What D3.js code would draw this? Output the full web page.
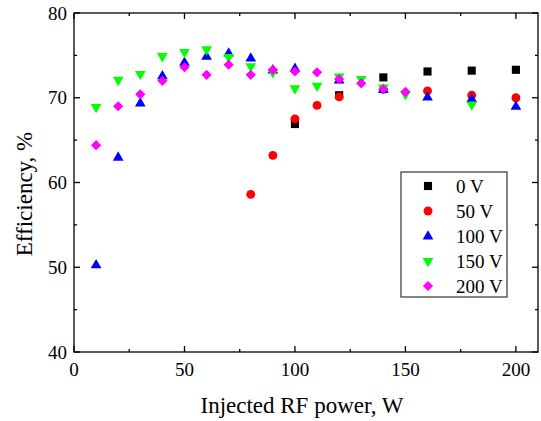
<!DOCTYPE html>
<html>
<head>
<meta charset="utf-8">
<script src="https://cdn.jsdelivr.net/npm/d3@7"></script>
<style>
  body { margin: 0; background: #fff; }
</style>
</head>
<body>
<div id="chart"></div>
<script>
// series (x = injected power W, y = efficiency %)
const x0V = [100, 120, 140, 160, 180, 200];
const y0V = [66.9, 70.3, 72.4, 73.1, 73.2, 73.3];

const x50V = [80, 90, 100, 110, 120, 140, 160, 180, 200];
const y50V = [58.6, 63.2, 67.5, 69.1, 70.1, 71.0, 70.8, 70.3, 70.0];

const x100V = [10, 20, 30, 40, 50, 60, 70, 80, 90, 100, 120, 140, 160, 180, 200];
const y100V = [50.3, 63.0, 69.4, 72.6, 74.2, 74.9, 75.3, 74.7, 73.3, 73.5, 72.1, 71.0, 70.1, 69.9, 69.0];

const x150V = [10, 20, 30, 40, 50, 60, 70, 80, 90, 100, 110, 120, 130, 140, 150, 180];
const y150V = [68.9, 72.1, 72.8, 74.9, 75.4, 75.7, 74.8, 73.7, 73.0, 71.1, 71.4, 72.5, 72.2, 71.2, 70.4, 69.2];

const x200V = [10, 20, 30, 40, 50, 60, 70, 80, 90, 100, 110, 120, 130, 140, 150];
const y200V = [64.4, 69.0, 70.4, 72.0, 73.6, 72.7, 73.9, 72.7, 73.3, 73.1, 73.0, 72.2, 71.7, 71.0, 70.7];

const seriesNames = ["0 V", "50 V", "100 V", "150 V", "200 V"];
const xTicks = [0, 50, 100, 150, 200];
const yTicks = [40, 50, 60, 70, 80];

const series = [
  { name: seriesNames[0], xs: x0V, ys: y0V, color: "#000000", shape: "square" },
  { name: seriesNames[1], xs: x50V, ys: y50V, color: "#ff0000", shape: "circle" },
  { name: seriesNames[2], xs: x100V, ys: y100V, color: "#0000ff", shape: "up" },
  { name: seriesNames[3], xs: x150V, ys: y150V, color: "#00ff00", shape: "down" },
  { name: seriesNames[4], xs: x200V, ys: y200V, color: "#ff00ff", shape: "diamond" },
];

const FONT = "'Liberation Serif', 'Times New Roman', Times, serif";
const width = 541, height = 421;
const margin = { left: 74, right: 3, top: 13, bottom: 69 };

const svg = d3.select("#chart").append("svg")
  .attr("width", width).attr("height", height)
  .attr("font-family", FONT);

const x = d3.scaleLinear().domain([0, 210]).range([margin.left, width - margin.right]);
const y = d3.scaleLinear().domain([40, 80]).range([height - margin.bottom, margin.top]);

// symbol paths
const symbolPath = {
  square: d3.symbol().type(d3.symbolSquare).size(66)(),
  circle: d3.symbol().type(d3.symbolCircle).size(62)(),
  up: d3.symbol().type(d3.symbolTriangle).size(50)(),
  down: d3.symbol().type(d3.symbolTriangle).size(50)(),
  diamond: d3.symbol().type(d3.symbolSquare).size(52)(),
};
function transformFor(shape, px, py) {
  if (shape === "down") return `translate(${px},${py}) rotate(180)`;
  if (shape === "diamond") return `translate(${px},${py}) rotate(45)`;
  if (shape === "up") return `translate(${px},${py + 0.5})`;
  return `translate(${px},${py})`;
}

// axes: ticks pointing inward, mirrored on top / right
const tickMajor = 6, tickMinor = 3;
const xMinor = d3.range(25, 210, 50);
const yMinor = d3.range(45, 80, 10);

const axisG = svg.append("g").attr("stroke", "#000").attr("stroke-width", 1.3);

xTicks.forEach(v => {
  axisG.append("line").attr("x1", x(v)).attr("x2", x(v))
    .attr("y1", y(40)).attr("y2", y(40) - tickMajor);
  axisG.append("line").attr("x1", x(v)).attr("x2", x(v))
    .attr("y1", y(80)).attr("y2", y(80) + tickMajor);
});
xMinor.forEach(v => {
  axisG.append("line").attr("x1", x(v)).attr("x2", x(v))
    .attr("y1", y(40)).attr("y2", y(40) - tickMinor);
  axisG.append("line").attr("x1", x(v)).attr("x2", x(v))
    .attr("y1", y(80)).attr("y2", y(80) + tickMinor);
});
yTicks.forEach(v => {
  axisG.append("line").attr("x1", x(0)).attr("x2", x(0) + tickMajor)
    .attr("y1", y(v)).attr("y2", y(v));
  axisG.append("line").attr("x1", x(210)).attr("x2", x(210) - tickMajor)
    .attr("y1", y(v)).attr("y2", y(v));
});
yMinor.forEach(v => {
  axisG.append("line").attr("x1", x(0)).attr("x2", x(0) + tickMinor)
    .attr("y1", y(v)).attr("y2", y(v));
  axisG.append("line").attr("x1", x(210)).attr("x2", x(210) - tickMinor)
    .attr("y1", y(v)).attr("y2", y(v));
});

axisG.append("rect")
  .attr("x", x(0)).attr("y", y(80))
  .attr("width", x(210) - x(0)).attr("height", y(40) - y(80))
  .attr("fill", "none");

// tick labels
svg.append("g").selectAll("text").data(xTicks).enter().append("text")
  .attr("x", d => x(d)).attr("y", y(40) + 24)
  .attr("text-anchor", "middle").attr("font-size", 19)
  .text(d => d);

svg.append("g").selectAll("text").data(yTicks).enter().append("text")
  .attr("x", x(0) - 7).attr("y", d => y(d) + 6.5)
  .attr("text-anchor", "end").attr("font-size", 19)
  .text(d => d);

// axis titles
svg.append("text")
  .attr("x", (x(0) + x(210)) / 2 - 4).attr("y", 413)
  .attr("text-anchor", "middle").attr("font-size", 23)
  .text("Injected RF power, W");

svg.append("text")
  .attr("transform", `translate(32,194) rotate(-90)`)
  .attr("text-anchor", "middle").attr("font-size", 23)
  .text("Efficiency, %");

// data markers
series.forEach(s => {
  svg.append("g").selectAll("path")
    .data(s.xs.map((xv, i) => [xv, s.ys[i]]))
    .enter().append("path")
    .attr("d", symbolPath[s.shape])
    .attr("transform", d => transformFor(s.shape, x(d[0]), y(d[1])))
    .attr("fill", s.color);
});

// legend
const legend = svg.append("g");
legend.append("rect")
  .attr("x", 401).attr("y", 172).attr("width", 106).attr("height", 125)
  .attr("fill", "#fff").attr("stroke", "#333").attr("stroke-width", 1.2);

series.forEach((s, i) => {
  const cy = 186 + i * 25;
  legend.append("path")
    .attr("d", symbolPath[s.shape])
    .attr("transform", transformFor(s.shape, 428, cy))
    .attr("fill", s.color);
  legend.append("text")
    .attr("x", 456).attr("y", cy + 6.5)
    .attr("font-size", 19)
    .text(s.name);
});
</script>
</body>
</html>
